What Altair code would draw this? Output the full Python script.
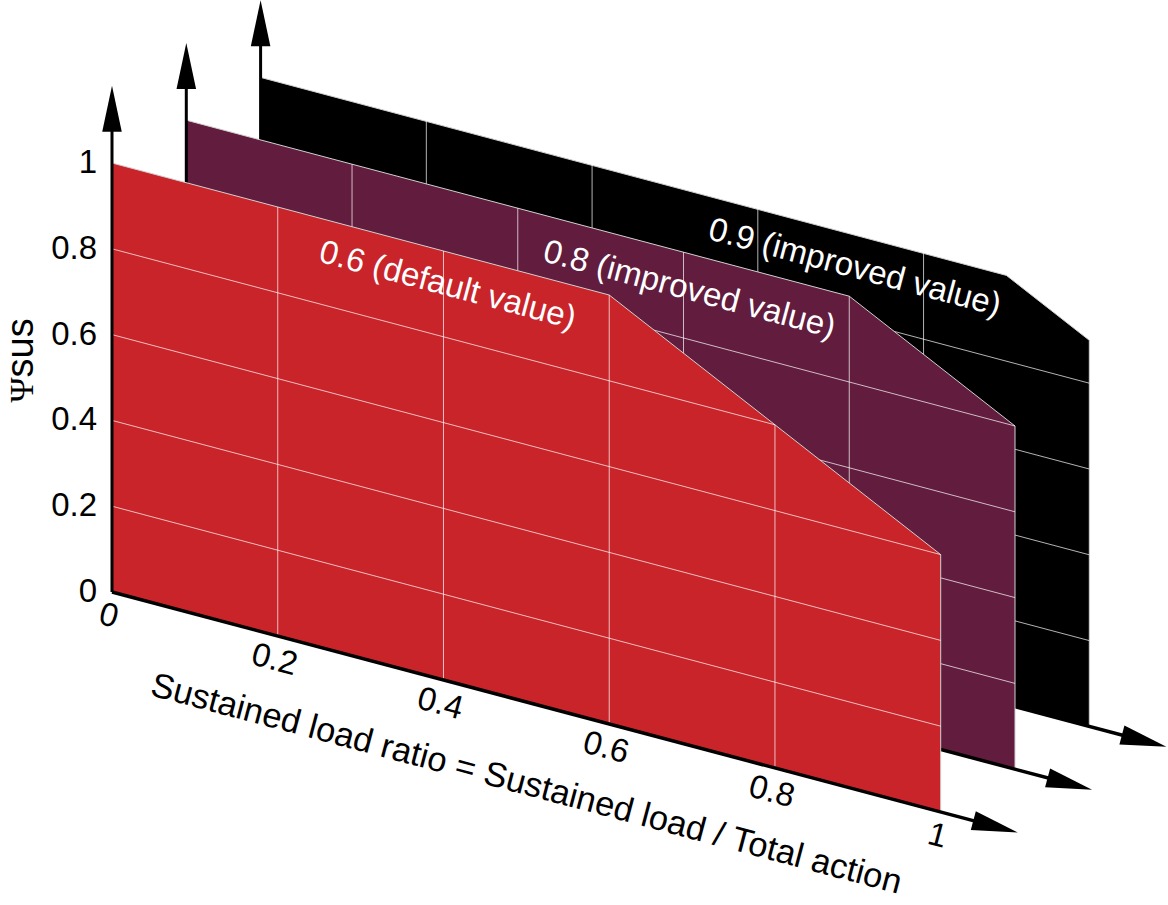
import math
import altair as alt
import pandas as pd

# ---------------- data ----------------
ratio_ticks = [0, 0.2, 0.4, 0.6, 0.8, 1]
ratio_tick_labels = ["0", "0.2", "0.4", "0.6", "0.8", "1"]
psi_ticks = [0, 0.2, 0.4, 0.6, 0.8, 1]
psi_tick_labels = ["0", "0.2", "0.4", "0.6", "0.8", "1"]
grid_values = [0.2, 0.4, 0.6, 0.8]

# panels, back to front
panel_depth = [2, 1, 0]
panel_knee = [0.9, 0.8, 0.6]
panel_colors = ["#000000", "#611c3e", "#c9242a"]
profile_ratio = [[0, 0.9, 1], [0, 0.8, 1], [0, 0.6, 1]]
profile_psi = [[1, 1, 0.9], [1, 1, 0.8], [1, 1, 0.6]]
panel_labels = ["0.9 (improved value)", "0.8 (improved value)", "0.6 (default value)"]
label_ratio = [0.717, 0.607, 0.405]
label_psi = [0.924, 0.916, 0.922]

x_title = "Sustained load ratio = Sustained load / Total action"
y_title_symbol = "Ψ"
y_title_sub = "sus"
axis_ratio_end = 1.093   # arrow tip along ratio axis
axis_psi_end = 1.18      # arrow tip along psi axis

# ---------------- layout (oblique projection) ----------------
W, H = 1168, 905
X0, Y0 = 112.0, 592.0          # pixel of (ratio 0, psi 0) on front panel
UX, UY, UP = 828.7, 220.0, 429.0
DX, DY = 74.3, -42.8           # pixel shift per depth step
KX = DX / UX
KY = -DY / UP
SH = UY / UP
ANGLE = math.degrees(math.atan2(UY, UX))
ARROW_LEN = 46
FONT = "Liberation Sans"

XS = alt.Scale(domain=[-X0 / UX, (W - X0) / UX], nice=False, zero=False)
YS = alt.Scale(domain=[(Y0 - H) / UP, Y0 / UP], nice=False, zero=False)


def px(r, d):
    return f"({r}) + ({d})*{KX}"


def py(r, p, d):
    return f"({p}) - ({r})*{SH} + ({d})*{KY}"


def X(f):
    return alt.X(f"{f}:Q", scale=XS, axis=None)


def Y(f):
    return alt.Y(f"{f}:Q", scale=YS, axis=None)


ARROW = "M0,0L0.425,2L-0.425,2Z"

layers = []
for i, d in enumerate(panel_depth):
    k = panel_knee[i]
    col = panel_colors[i]
    # panel face
    df_area = pd.DataFrame({"r": profile_ratio[i], "p": profile_psi[i], "d": d})
    area = (
        alt.Chart(df_area)
        .mark_area(fill=col, fillOpacity=1, stroke="#d0d0d0", strokeWidth=1)
        .transform_calculate(sx=px("datum.r", "datum.d"))
        .transform_calculate(sy=py("datum.r", "datum.p", "datum.d"))
        .transform_calculate(sy0=py("datum.r", "0", "datum.d"))
        .encode(x=X("sx"), y=Y("sy"), y2="sy0")
    )
    layers.append(area)

    # vertical grid lines
    df_vg = pd.DataFrame({"r": grid_values, "d": d, "k": k})
    vg = (
        alt.Chart(df_vg)
        .mark_rule(color="white", strokeWidth=1, opacity=0.7)
        .transform_calculate(ptop="min(1, 1 + datum.k - datum.r)")
        .transform_calculate(sx=px("datum.r", "datum.d"))
        .transform_calculate(sy1=py("datum.r", "0", "datum.d"))
        .transform_calculate(sy2=py("datum.r", "datum.ptop", "datum.d"))
        .encode(x=X("sx"), y=Y("sy1"), y2="sy2")
    )
    layers.append(vg)

    # slanted horizontal grid lines
    df_hg = pd.DataFrame({"p": grid_values, "d": d, "k": k})
    hg = (
        alt.Chart(df_hg)
        .mark_rule(color="white", strokeWidth=1, opacity=0.7)
        .transform_calculate(rend="min(1, 1 + datum.k - datum.p)")
        .transform_calculate(sx1=px("0", "datum.d"))
        .transform_calculate(sy1=py("0", "datum.p", "datum.d"))
        .transform_calculate(sx2=px("datum.rend", "datum.d"))
        .transform_calculate(sy2=py("datum.rend", "datum.p", "datum.d"))
        .encode(x=X("sx1"), y=Y("sy1"), x2="sx2", y2="sy2")
    )
    layers.append(hg)

    # axis shafts
    df_ax = pd.DataFrame({"d": [d]})
    vshaft = (
        alt.Chart(df_ax)
        .mark_rule(color="black", strokeWidth=3, strokeCap="butt")
        .transform_calculate(sx=px("0", "datum.d"))
        .transform_calculate(sy1=py("0", "0", "datum.d"))
        .transform_calculate(sy2=py("0", str(axis_psi_end - 0.06), "datum.d"))
        .encode(x=X("sx"), y=Y("sy1"), y2="sy2")
    )
    hshaft = (
        alt.Chart(df_ax)
        .mark_rule(color="black", strokeWidth=3.5, strokeCap="butt")
        .transform_calculate(sx1=px("0", "datum.d"))
        .transform_calculate(sy1=py("0", "0", "datum.d"))
        .transform_calculate(sx2=px(str(axis_ratio_end - 0.03), "datum.d"))
        .transform_calculate(sy2=py(str(axis_ratio_end - 0.03), "0", "datum.d"))
        .encode(x=X("sx1"), y=Y("sy1"), x2="sx2", y2="sy2")
    )
    vhead = (
        alt.Chart(df_ax)
        .mark_point(shape=ARROW, filled=True, color="black", opacity=1,
                    size=ARROW_LEN ** 2, strokeWidth=0)
        .transform_calculate(sx=px("0", "datum.d"))
        .transform_calculate(sy=py("0", str(axis_psi_end), "datum.d"))
        .encode(x=X("sx"), y=Y("sy"))
    )
    hhead = (
        alt.Chart(df_ax)
        .mark_point(shape=ARROW, filled=True, color="black", opacity=1,
                    size=ARROW_LEN ** 2, strokeWidth=0, angle=90 + ANGLE)
        .transform_calculate(sx=px(str(axis_ratio_end), "datum.d"))
        .transform_calculate(sy=py(str(axis_ratio_end), "0", "datum.d"))
        .encode(x=X("sx"), y=Y("sy"))
    )
    layers += [vshaft, hshaft, vhead, hhead]

# panel annotations
df_lab = pd.DataFrame({"r": label_ratio, "p": label_psi, "d": panel_depth, "label": panel_labels})
labels = (
    alt.Chart(df_lab)
    .mark_text(font=FONT, fontSize=33, color="white", angle=ANGLE,
               align="center", baseline="middle")
    .transform_calculate(sx=px("datum.r", "datum.d"))
    .transform_calculate(sy=py("datum.r", "datum.p", "datum.d"))
    .encode(x=X("sx"), y=Y("sy"), text="label:N")
)
layers.append(labels)

# psi tick labels
df_yt = pd.DataFrame({"p": psi_ticks, "label": psi_tick_labels})
ytl = (
    alt.Chart(df_yt)
    .mark_text(font=FONT, fontSize=33, color="black", align="right",
               baseline="middle", dx=-15)
    .transform_calculate(sx=px("0", "0"))
    .transform_calculate(sy=py("0", "datum.p", "0"))
    .encode(x=X("sx"), y=Y("sy"), text="label:N")
)
# ratio tick labels
df_xt = pd.DataFrame({"r": ratio_ticks, "label": ratio_tick_labels})
xtl = (
    alt.Chart(df_xt)
    .mark_text(font=FONT, fontSize=33, color="black", align="center",
               baseline="middle", angle=ANGLE, dx=3, dy=24)
    .transform_calculate(sx=px("datum.r", "0"))
    .transform_calculate(sy=py("datum.r", "0", "0"))
    .encode(x=X("sx"), y=Y("sy"), text="label:N")
)
# x title
df_xtitle = pd.DataFrame({"r": [0.5], "label": [x_title]})
xtitle = (
    alt.Chart(df_xtitle)
    .mark_text(font=FONT, fontSize=34.5, color="black", align="center",
               baseline="middle", angle=ANGLE, dx=21, dy=80)
    .transform_calculate(sx=px("datum.r", "0"))
    .transform_calculate(sy=py("datum.r", "0", "0"))
    .encode(x=X("sx"), y=Y("sy"), text="label:N")
)
# y title: serif Psi + "sus"
df_yt1 = pd.DataFrame({"p": [0.5], "label": [y_title_symbol]})
df_yt2 = pd.DataFrame({"p": [0.5], "label": [y_title_sub]})
ytitle1 = (
    alt.Chart(df_yt1)
    .mark_text(font="Liberation Serif", fontSize=34, color="black", align="right",
               baseline="alphabetic", angle=270, dy=-79)
    .transform_calculate(sx=px("0", "0"))
    .transform_calculate(sy=py("0", "datum.p", "0"))
    .encode(x=X("sx"), y=Y("sy"), text="label:N")
)
ytitle2 = (
    alt.Chart(df_yt2)
    .mark_text(font=FONT, fontSize=38, color="black", align="left",
               baseline="alphabetic", angle=270, dy=-79)
    .transform_calculate(sx=px("0", "0"))
    .transform_calculate(sy=py("0", "datum.p", "0"))
    .encode(x=X("sx"), y=Y("sy"), text="label:N")
)
layers += [ytl, xtl, xtitle, ytitle1, ytitle2]

chart = (
    alt.layer(*layers)
    .properties(width=W, height=H, padding=0,
                autosize=alt.AutoSizeParams(type="none"))
    .configure_view(strokeWidth=0)
)

chart.save("out.html", embed_options={"renderer": "svg", "actions": False})
